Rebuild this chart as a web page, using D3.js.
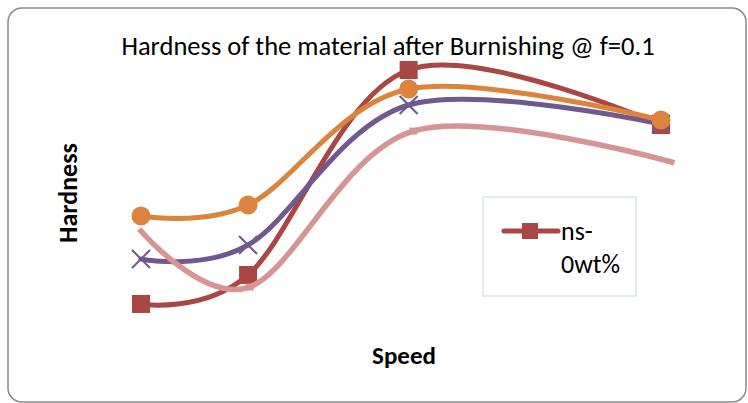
<!DOCTYPE html>
<html><head><meta charset="utf-8">
<script src="https://cdn.jsdelivr.net/npm/d3@7"></script>
<style>body{margin:0;background:#fff}svg{display:block}</style>
</head><body>
<script>
const speeds = [100, 170, 275, 440];
const pinkSpeeds = [100, 171, 278, 447];
const seriesNames = ["ns-0wt%", "ns-series2", "ns-series3", "ns-series4"];
const redValues = [41.86, 43.93, 58.57, 54.64];
const purpleValues = [45.07, 46.07, 56.07, 54.71];
const orangeValues = [48.14, 48.93, 57.21, 55.0];
const pinkValues = [47.07, 43.07, 54.21, 52.0];
const colors = ["#AA4643", "#71588F", "#DB843D", "#D69594"];
const markers = ["square", "x", "circle", "smallsquare"];

const W = 748, H = 403;
const svg = d3.select("body").append("svg").attr("width", W).attr("height", H);

svg.append("rect").attr("x", 8).attr("y", 8).attr("width", 738).attr("height", 394)
  .attr("rx", 14).attr("fill", "#fff").attr("stroke", "#8a8a8a").attr("stroke-width", 1.5);

const x = d3.scaleLinear().domain([100, 440]).range([141, 661]);
const y = d3.scaleLinear().domain([40, 60]).range([330, 50]);

const allSeries = [[speeds, redValues], [speeds, purpleValues], [speeds, orangeValues], [pinkSpeeds, pinkValues]];
const line = d3.line().x(d => x(d[0])).y(d => y(d[1])).curve(d3.curveCatmullRom.alpha(0));

allSeries.forEach(([xs, vals], i) => {
  const pts = xs.map((s, j) => [s, vals[j]]);
  const g = svg.append("g");
  g.append("path").attr("d", line(pts)).attr("fill", "none")
    .attr("stroke", colors[i]).attr("stroke-width", i === 3 ? 5.5 : 5)
    .attr("stroke-linecap", i === 3 ? "square" : "round").attr("stroke-linejoin", "round");
  pts.forEach((p, j) => {
    const cx = x(p[0]), cy = y(p[1]);
    if (markers[i] === "square") {
      g.append("rect").attr("x", cx - 9).attr("y", cy - 9).attr("width", 18).attr("height", 18).attr("fill", colors[i]);
    } else if (markers[i] === "circle") {
      g.append("circle").attr("cx", cx).attr("cy", cy).attr("r", 9.5).attr("fill", colors[i]);
    } else if (markers[i] === "x") {
      g.append("path").attr("d", `M${cx-9},${cy-9}L${cx+9},${cy+9}M${cx+9},${cy-9}L${cx-9},${cy+9}`)
        .attr("stroke", colors[i]).attr("stroke-width", 2).attr("fill", "none");
    } else if (j > 0 && j < pts.length - 1) {
      g.append("rect").attr("x", cx - 4).attr("y", cy - 3.5).attr("width", 8).attr("height", 7).attr("fill", colors[i]);
    }
  });
});

const font = "Carlito, Calibri, 'Open Sans', sans-serif";
svg.append("text").attr("x", 388).attr("y", 55).attr("text-anchor", "middle")
  .attr("font-family", font).attr("font-size", 26.5).attr("fill", "#000")
  .text("Hardness of the material after Burnishing @ f=0.1");

svg.append("text").attr("x", 404).attr("y", 364).attr("text-anchor", "middle")
  .attr("font-family", font).attr("font-size", 25).attr("font-weight", "bold").attr("fill", "#000")
  .text("Speed");

svg.append("text").attr("transform", "translate(77,193) rotate(-90)").attr("text-anchor", "middle")
  .attr("font-family", font).attr("font-size", 26).attr("font-weight", "bold").attr("fill", "#000")
  .text("Hardness");

// legend
const lg = svg.append("g");
lg.append("rect").attr("x", 483).attr("y", 197).attr("width", 153).attr("height", 99)
  .attr("fill", "#fff").attr("stroke", "#dbe3ec").attr("stroke-width", 1.5);
lg.append("line").attr("x1", 504).attr("x2", 558).attr("y1", 231).attr("y2", 231)
  .attr("stroke", colors[0]).attr("stroke-width", 5).attr("stroke-linecap", "round");
lg.append("rect").attr("x", 522).attr("y", 223).attr("width", 16).attr("height", 16).attr("fill", colors[0]);
const lt = lg.append("text").attr("font-family", font).attr("font-size", 26).attr("fill", "#000");
lt.append("tspan").attr("x", 561).attr("y", 240).text("ns-");
lt.append("tspan").attr("x", 561).attr("y", 273).text("0wt%");
</script>
</body></html>
